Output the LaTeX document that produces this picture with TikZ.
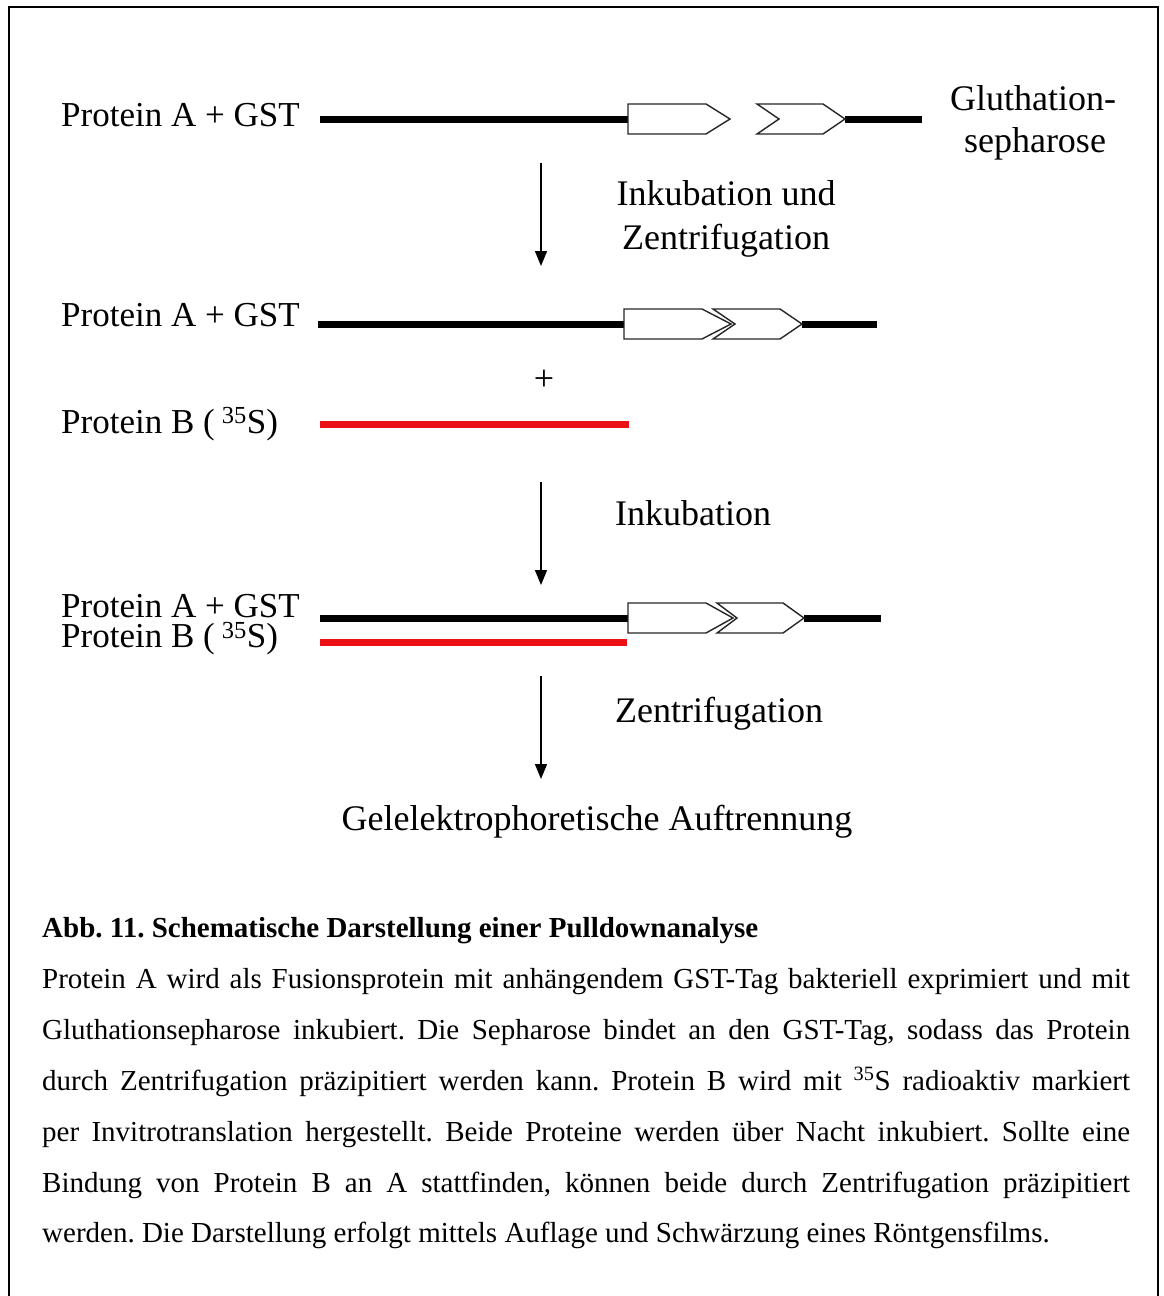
\documentclass[tikz,border=0pt]{standalone}
\usepackage{fontspec}
\setmainfont{Liberation Serif}
\usetikzlibrary{arrows.meta}
\frenchspacing

% GST box followed by the sepharose chevron on one strand
% #1 y-mid, #2 box left, #3 box flat end, #4 box tip,
% #5 chevron left, #6 chevron notch, #7 chevron flat end, #8 chevron tip
\newcommand{\gstunit}[8]{%
  \draw[tagbox] (#2,#1-15) -- (#3,#1-15) -- (#4,#1) -- (#3,#1+15) -- (#2,#1+15) -- cycle;
  \draw[tagbox] (#5,#1-15) -- (#7,#1-15) -- (#8,#1) -- (#7,#1+15) -- (#5,#1+15) -- (#6,#1) -- cycle;
}
\newcommand{\labelledB}{Protein B (\kern7pt\textsuperscript{35}S)}

\begin{document}
\begin{tikzpicture}[x=1pt,y=-1pt,
  lbl/.style={inner sep=0pt,font=\fontsize{36}{40}\selectfont},
  prot/.style={inner sep=0pt,anchor=base west,font=\fontsize{35}{30}\selectfont},
  body/.style={inner sep=0pt,anchor=base west,font=\fontsize{29}{30}\selectfont},
  strand/.style={line width=7pt},
  redstrand/.style={line width=7pt,draw={rgb,255:red,235;green,16;blue,22}},
  tagbox/.style={line width=1.4pt,draw=black!85,fill=white,line join=miter},
  stepline/.style={line width=1.4pt,-{Triangle[width=12pt,length=15pt]}}]

\useasboundingbox (0,0) rectangle (1163,1296);
\clip (0,0) rectangle (1163,1296);
\fill[white] (0,0) rectangle (1163,1296);

% outer frame
\draw[line width=2.5pt] (9,1320) -- (9,7) -- (1158,7) -- (1158,1320);

% ---- step 1: Protein A + GST with Gluthationsepharose
\node[prot] (ga1) at (61,126) {Protein A + GST};
\draw[strand] (320,119) -- (628,119);
\draw[strand] (845,119) -- (922,119);
\gstunit{119}{628}{706}{730}{757}{779}{823}{845}
\node[lbl,anchor=base] (gsa) at (1033,110) {Gluthation-};
\node[lbl,anchor=base] (gsb) at (1035,152) {sepharose};

\coordinate (s1a) at (541,163);
\coordinate (s1b) at (541,266);
\draw[stepline] (s1a) -- (s1b);
\node[lbl,anchor=base] (t1a) at (726,205) {Inkubation und};
\node[lbl,anchor=base] (t1b) at (726,249) {Zentrifugation};

% ---- step 2: bound complex plus labelled Protein B
\node[prot] (ga2) at (61,326) {Protein A + GST};
\draw[strand] (318,324) -- (624,324);
\draw[strand] (802,324) -- (877,324);
\gstunit{324}{624}{702}{731}{713}{735}{780}{802}

\node[lbl] (plus) at (544,380) {+};

\node[prot] (pb2) at (61,433) {\labelledB};
\draw[redstrand] (320,424) -- (629,424);

\coordinate (s2a) at (541,482);
\coordinate (s2b) at (541,585);
\draw[stepline] (s2a) -- (s2b);
\node[lbl,anchor=base west] (t2) at (615,525) {Inkubation};

% ---- step 3: Protein A + GST bound to Protein B
\node[prot,align=left,anchor=north west] (ab3) at (61,594) {Protein A + GST\\\labelledB};
\draw[strand] (320,618) -- (628,618);
\draw[strand] (804,618) -- (881,618);
\draw[redstrand] (320,642) -- (627,642);
\gstunit{618}{628}{706}{733}{717}{737}{783}{804}

\coordinate (s3a) at (541,676);
\coordinate (s3b) at (541,779);
\draw[stepline] (s3a) -- (s3b);
\node[lbl,anchor=base west] (t3) at (615,722) {Zentrifugation};

\node[lbl,anchor=base] (gel) at (597,830) {Gelelektrophoretische Auftrennung};

% ---- caption
\node[body,font=\fontsize{29}{30}\selectfont\bfseries] (cap) at (42,937)
  {Abb. 11. Schematische Darstellung einer Pulldownanalyse};
\node[body] (l1) at (42,988) {\makebox[1088pt][s]{Protein A wird als Fusionsprotein mit anhängendem GST-Tag bakteriell exprimiert und mit}};
\node[body] (l2) at (42,1039) {\makebox[1088pt][s]{Gluthationsepharose inkubiert. Die Sepharose bindet an den GST-Tag, sodass das Protein}};
\node[body] (l3) at (42,1090) {\makebox[1088pt][s]{durch Zentrifugation präzipitiert werden kann. Protein B wird mit \textsuperscript{35}S radioaktiv markiert}};
\node[body] (l4) at (42,1141) {\makebox[1088pt][s]{per Invitrotranslation hergestellt. Beide Proteine werden über Nacht inkubiert. Sollte eine}};
\node[body] (l5) at (42,1192) {\makebox[1088pt][s]{Bindung von Protein B an A stattfinden, können beide durch Zentrifugation präzipitiert}};
\node[body] (l6) at (42,1242) {werden. Die Darstellung erfolgt mittels Auflage und Schwärzung eines Röntgensfilms.};

\end{tikzpicture}
\end{document}
